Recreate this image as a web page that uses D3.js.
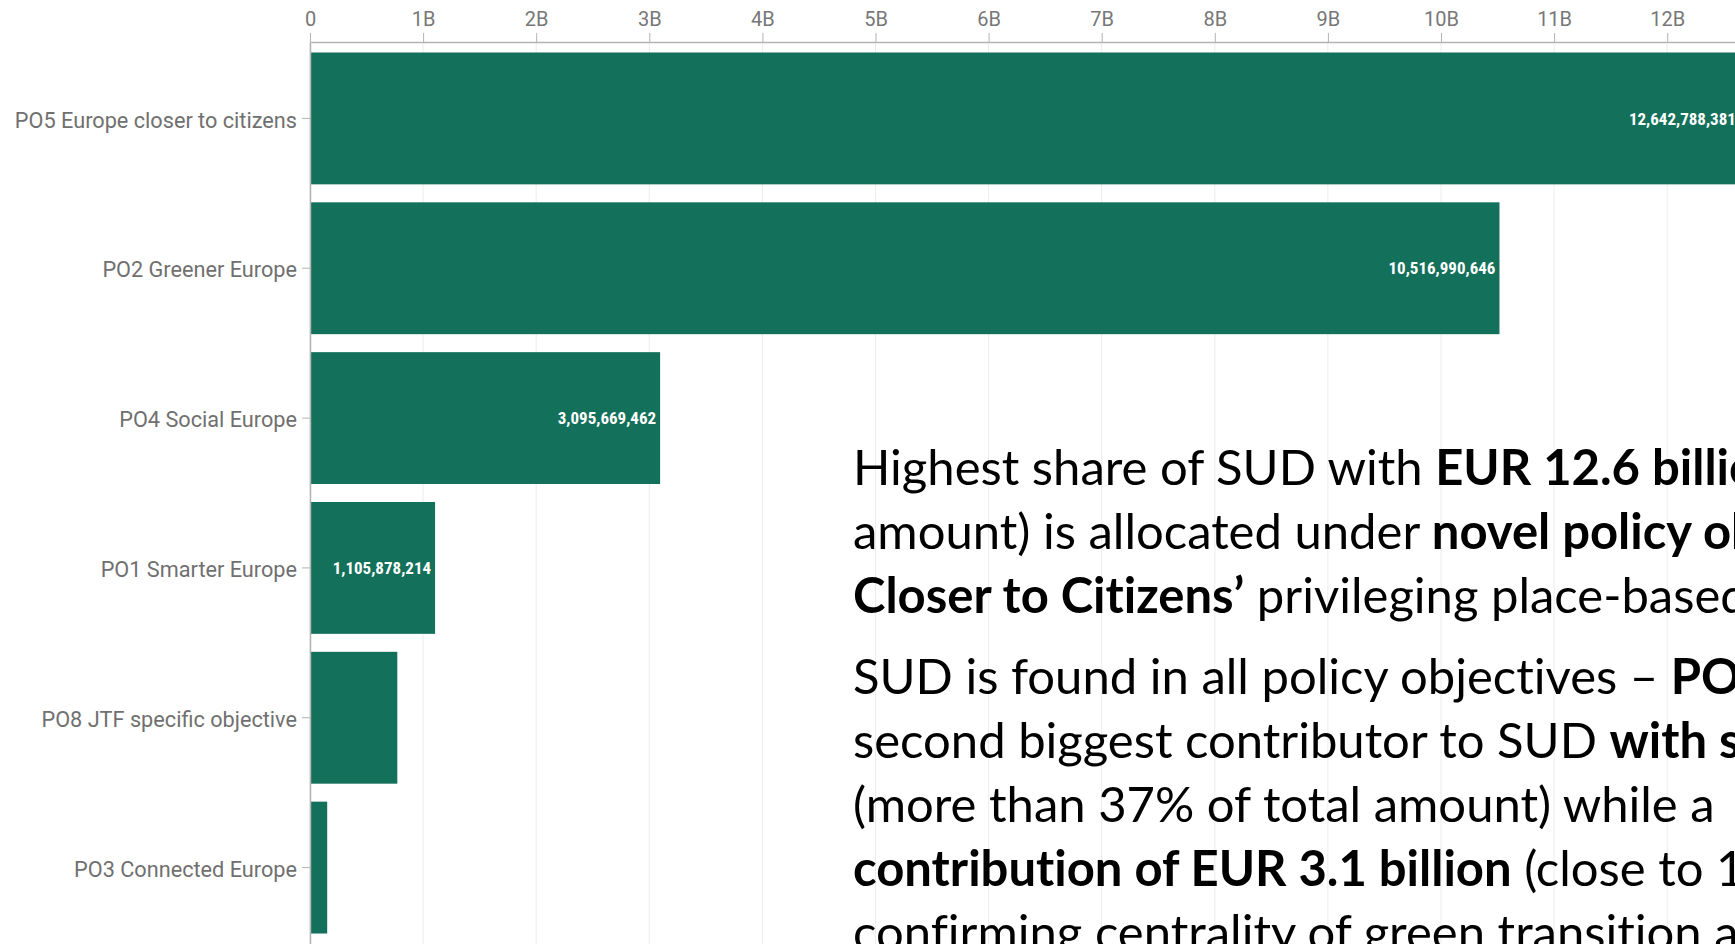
<!DOCTYPE html>
<meta charset="utf-8">

<!-- Load d3.js -->
<script src="https://d3js.org/d3.v7.min.js"></script>

<style>
  body { margin: 0; background: #fff; overflow: hidden; }
</style>

<!-- Create a div where the graph will take place -->
<div id="my_dataviz"></div>

<script>

// data
var categories = ["PO5 Europe closer to citizens", "PO2 Greener Europe", "PO4 Social Europe",
                  "PO1 Smarter Europe", "PO8 JTF specific objective", "PO3 Connected Europe"];
var values = [12642788381, 10516990646, 3095669462, 1105878214, 772000000, 152000000];
var tickValues = [0, 1e9, 2e9, 3e9, 4e9, 5e9, 6e9, 7e9, 8e9, 9e9, 10e9, 11e9, 12e9, 13e9];
var tickLabels = ["0", "1B", "2B", "3B", "4B", "5B", "6B", "7B", "8B", "9B", "10B", "11B", "12B", "13B"];

// slide text, one entry per line: [text, bold]
var textLines = [
  [["Highest share of SUD with ", false], ["EUR 12.6 billion", true]],
  [["amount) is allocated under ", false], ["novel policy objective", true]],
  [["Closer to Citizens\u2019", true], [" privileging place-based", false]],
  [["SUD is found in all policy objectives \u2013 ", false], ["PO2", true]],
  [["second biggest contributor to SUD ", false], ["with s", true]],
  [["(more than 37% of total amount) while a", false]],
  [["contribution of EUR 3.1 billion", true], [" (close to 1", false]],
  [["confirming centrality of green transition a", false]]
];

// set the dimensions and margins of the graph
var width = 1735, height = 944;
var margin = {top: 42, left: 310};
var barColor = "#13705a";

var svg = d3.select("#my_dataviz")
  .append("svg")
    .attr("width", width)
    .attr("height", height);

var x = d3.scaleLinear()
  .domain([0, 13e9])
  .range([margin.left, margin.left + 13 * 113.1]);

var y = d3.scaleBand()
  .domain(categories)
  .range([margin.top, height])
  .paddingInner(0.12)
  .paddingOuter(0.07);

// vertical gridlines
svg.append("g")
  .selectAll("line")
  .data(tickValues)
  .enter()
  .append("line")
    .attr("x1", function(d) { return x(d); })
    .attr("x2", function(d) { return x(d); })
    .attr("y1", margin.top)
    .attr("y2", height)
    .attr("stroke", "#ececec")
    .attr("stroke-width", 1);

// bars
svg.append("g")
  .selectAll("rect")
  .data(values)
  .enter()
  .append("rect")
    .attr("x", x(0))
    .attr("y", function(d, i) { return y(categories[i]); })
    .attr("width", function(d) { return x(d) - x(0); })
    .attr("height", y.bandwidth())
    .attr("fill", barColor);

// value labels, only where there is room inside the bar
var fmt = d3.format(",");
svg.append("g")
  .selectAll("text")
  .data(values)
  .enter()
  .append("text")
    .attr("x", function(d) { return x(d) - 4; })
    .attr("y", function(d, i) { return y(categories[i]) + y.bandwidth() / 2; })
    .attr("dy", "0.36em")
    .attr("text-anchor", "end")
    .style("font-family", "'Roboto Condensed', Roboto, sans-serif")
    .style("font-stretch", "condensed")
    .style("font-weight", "bold")
    .style("font-size", "17px")
    .style("fill", "#fff")
    .text(function(d) { return fmt(d); })
    .each(function(d) {
      if (this.getComputedTextLength() + 20 > x(d) - x(0)) d3.select(this).remove();
    });

// top axis
var xAxis = svg.append("g")
  .attr("transform", "translate(0," + margin.top + ")")
  .call(d3.axisTop(x)
    .tickValues(tickValues)
    .tickFormat(function(d, i) { return tickLabels[i]; })
    .tickSize(9)
    .tickSizeOuter(0)
    .tickPadding(7));
xAxis.select(".domain").attr("stroke", "#b3b3b3").attr("stroke-width", 1.5);
xAxis.selectAll(".tick line").attr("stroke", "#b3b3b3");
xAxis.selectAll(".tick text")
  .style("font-family", "Roboto, sans-serif")
  .style("font-size", "20px")
  .style("fill", "#777");

// left axis
var yAxis = svg.append("g")
  .attr("transform", "translate(" + margin.left + ",0)")
  .call(d3.axisLeft(y).tickSize(8).tickSizeOuter(0).tickPadding(5));
yAxis.select(".domain").attr("stroke", "#b3b3b3").attr("stroke-width", 1.5);
yAxis.selectAll(".tick line").attr("stroke", "#b3b3b3");
yAxis.selectAll(".tick text")
  .attr("dy", "0.42em")
  .style("font-family", "Roboto, sans-serif")
  .style("font-size", "21.7px")
  .style("fill", "#707070");

// slide text over the chart
var textBlock = svg.append("g")
  .style("font-family", "Lato, 'Open Sans', sans-serif")
  .style("font-size", "49px")
  .style("font-variant-ligatures", "none")
  .style("fill", "#000");

textLines.forEach(function(line, i) {
  var baseline = 485 + i * 64 + (i >= 3 ? 17 : 0);
  var t = textBlock.append("text")
    .attr("x", 853)
    .attr("y", baseline)
    .attr("xml:space", "preserve")
    .style("white-space", "pre");
  line.forEach(function(seg) {
    t.append("tspan")
      .style("font-weight", seg[1] ? "bold" : "normal")
      .text(seg[0]);
  });
});

</script>
